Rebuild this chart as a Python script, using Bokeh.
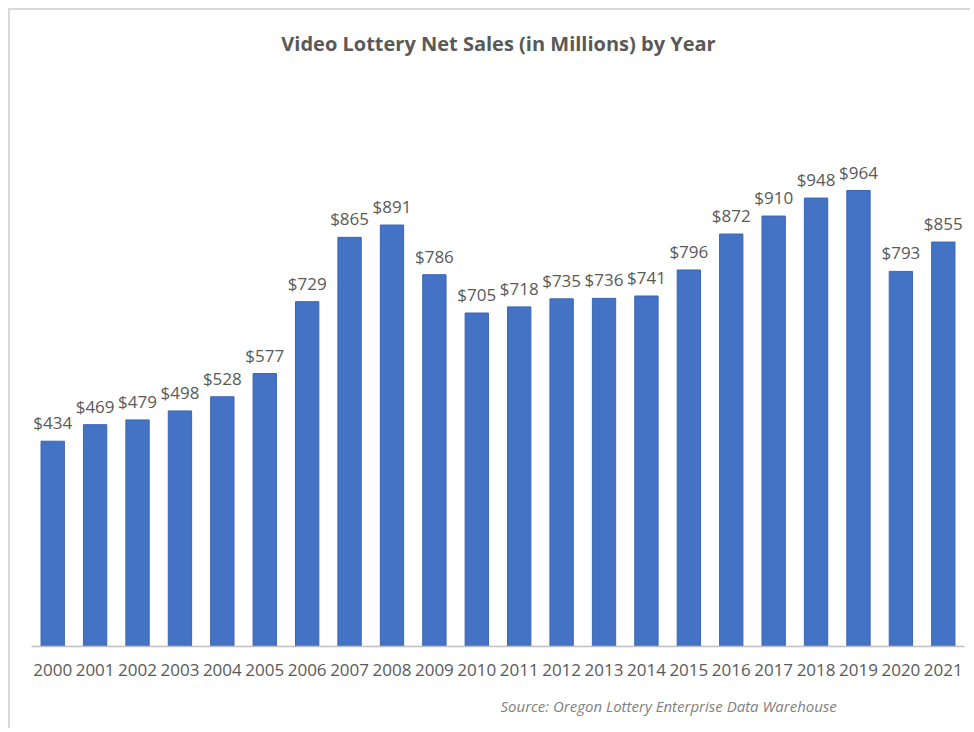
from bokeh.plotting import figure
from bokeh.models import ColumnDataSource, Label, Title
from bokeh.core.properties import value
from bokeh.embed import file_html
from bokeh.resources import INLINE

years = [str(y) for y in range(2000, 2022)]
sales = [434, 469, 479, 498, 528, 577, 729, 865, 891, 786, 705,
         718, 735, 736, 741, 796, 872, 910, 948, 964, 793, 855]
value_labels = ["$%d" % v for v in sales]

title_text = "Video Lottery Net Sales (in Millions) by Year"
source_text = "Source: Oregon Lottery Enterprise Data Warehouse"

src = ColumnDataSource(dict(year=years, sales=sales, lab=value_labels))

FONT = "Open Sans"
TXT = "#595959"

p = figure(x_range=years, y_range=(0, 1334), width=962, height=720,
           output_backend="svg", toolbar_location=None,
           min_border_left=21, min_border_right=8,
           min_border_top=5, min_border_bottom=83)
p.margin = (8, 0, 0, 8)
p.styles = {"border-top": "2px solid #d9d9d9", "border-left": "2px solid #d9d9d9"}

p.vbar(x="year", top="sales", width=0.55, source=src,
       fill_color="#4472C4", line_color="#3b65b3", line_width=1)

p.text(x="year", y="sales", text="lab", source=src,
       text_align="center", text_baseline="bottom", y_offset=-7,
       text_font=value(FONT), text_font_size="17px", text_color=TXT)

p.yaxis.visible = False
p.xgrid.grid_line_color = None
p.ygrid.grid_line_color = None
p.outline_line_color = None
p.xaxis.axis_line_color = "#bfbfbf"
p.xaxis.axis_line_width = 1.5
p.xaxis.major_tick_line_color = None
p.xaxis.minor_tick_line_color = None
p.xaxis.major_label_text_font = FONT
p.xaxis.major_label_text_font_size = "17px"
p.xaxis.major_label_text_color = TXT
p.xaxis.major_label_standoff = 11

# screen units here are measured from the frame's bottom-left corner
p.add_layout(Label(x=467, x_units="screen", y=603, y_units="screen",
                   text=title_text,
                   text_align="center", text_baseline="middle",
                   text_font=FONT, text_font_size="20px",
                   text_font_style="bold", text_color=TXT))
p.add_layout(Title(text=source_text, align="left", offset=469, standoff=30,
                   text_font=FONT, text_font_size="15px",
                   text_font_style="italic", text_color="#7f7f7f"), "below")

open("out.html", "w").write(file_html(p, INLINE))
